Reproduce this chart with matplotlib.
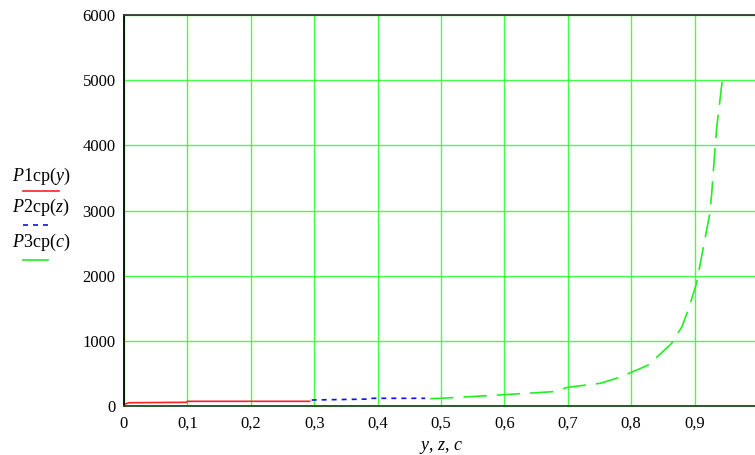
import matplotlib.pyplot as plt

plt.rcParams['mathtext.fontset'] = 'custom'
plt.rcParams['mathtext.rm'] = 'Liberation Serif'
plt.rcParams['mathtext.it'] = 'Liberation Serif:italic'
plt.rcParams['font.family'] = 'Liberation Serif'

# P1cp(y) - red, solid
y_vals = [0.0, 0.008, 0.099, 0.1, 0.293]
p1_vals = [26, 50, 57, 72, 72]

# P2cp(z) - blue, dotted
z_vals = [0.296, 0.39, 0.391, 0.475]
p2_vals = [92, 107, 118, 118]

# P3cp(c) - green, dashed
c_vals = [0.483, 0.5, 0.572, 0.677, 0.7, 0.751, 0.782, 0.827, 0.864, 0.88,
          0.89, 0.903, 0.911, 0.924, 0.927, 0.932, 0.935, 0.94, 0.944]
p3_vals = [112, 118, 158, 220, 287, 348, 440, 629, 962, 1217,
           1473, 1882, 2290, 2956, 3263, 3927, 4285, 4694, 5027]

xticks = [0, 0.1, 0.2, 0.3, 0.4, 0.5, 0.6, 0.7, 0.8, 0.9]
xtick_labels = ["0", "0,1", "0,2", "0,3", "0,4", "0,5", "0,6", "0,7", "0,8", "0,9"]
yticks = [0, 1000, 2000, 3000, 4000, 5000, 6000]

fig = plt.figure(figsize=(7.55, 4.55), dpi=100)
ax = fig.add_axes([124 / 755, 49 / 455, 634 / 755, 391 / 455])

ax.plot(y_vals, p1_vals, color='#ff2020', lw=1.2)
ax.plot(z_vals, p2_vals, color='#1010ee', lw=1.2, dashes=(3, 3))
ax.plot(c_vals, p3_vals, color='#22ee22', lw=1.2, dashes=(14, 6))

ax.set_xlim(0, 1)
ax.set_ylim(0, 6000)
ax.set_xticks(xticks)
ax.set_xticklabels(xtick_labels)
ax.set_yticks(yticks)
ax.tick_params(length=0, labelsize=12)
ax.tick_params(axis='x', pad=7)
ax.tick_params(axis='y', pad=6)
ax.grid(True, color='#44ff44', lw=1)
ax.set_axisbelow(True)

ax.spines['left'].set_color('black')
ax.spines['bottom'].set_color('#1d4a1d')
ax.spines['top'].set_color('#333333')
ax.spines['right'].set_visible(False)
for s in ['left', 'bottom', 'top']:
    ax.spines[s].set_linewidth(1.3)

ax.set_xlabel(r'$y$, $z$, $c$', fontsize=13, labelpad=5)

# legend at the left, outside the axes
legend_items = [
    (r'$P\mathrm{1cp}(y)$', '#ff2020', None, 176, 191, 59),
    (r'$P\mathrm{2cp}(z)$', '#1010ee', (3, 3), 207, 225, 53),
    (r'$P\mathrm{3cp}(c)$', '#22ee22', None, 242, 260, 48),
]
for label, col, dash, ty, ly, x2 in legend_items:
    fig.text(12 / 755, 1 - ty / 455, label, fontsize=13, va='center', ha='left')
    line = plt.Line2D([23 / 755, x2 / 755], [1 - ly / 455] * 2,
                      transform=fig.transFigure, color=col, lw=1.2)
    if dash:
        line.set_dashes(dash)
    fig.add_artist(line)

fig.savefig('out.png', dpi=100)
